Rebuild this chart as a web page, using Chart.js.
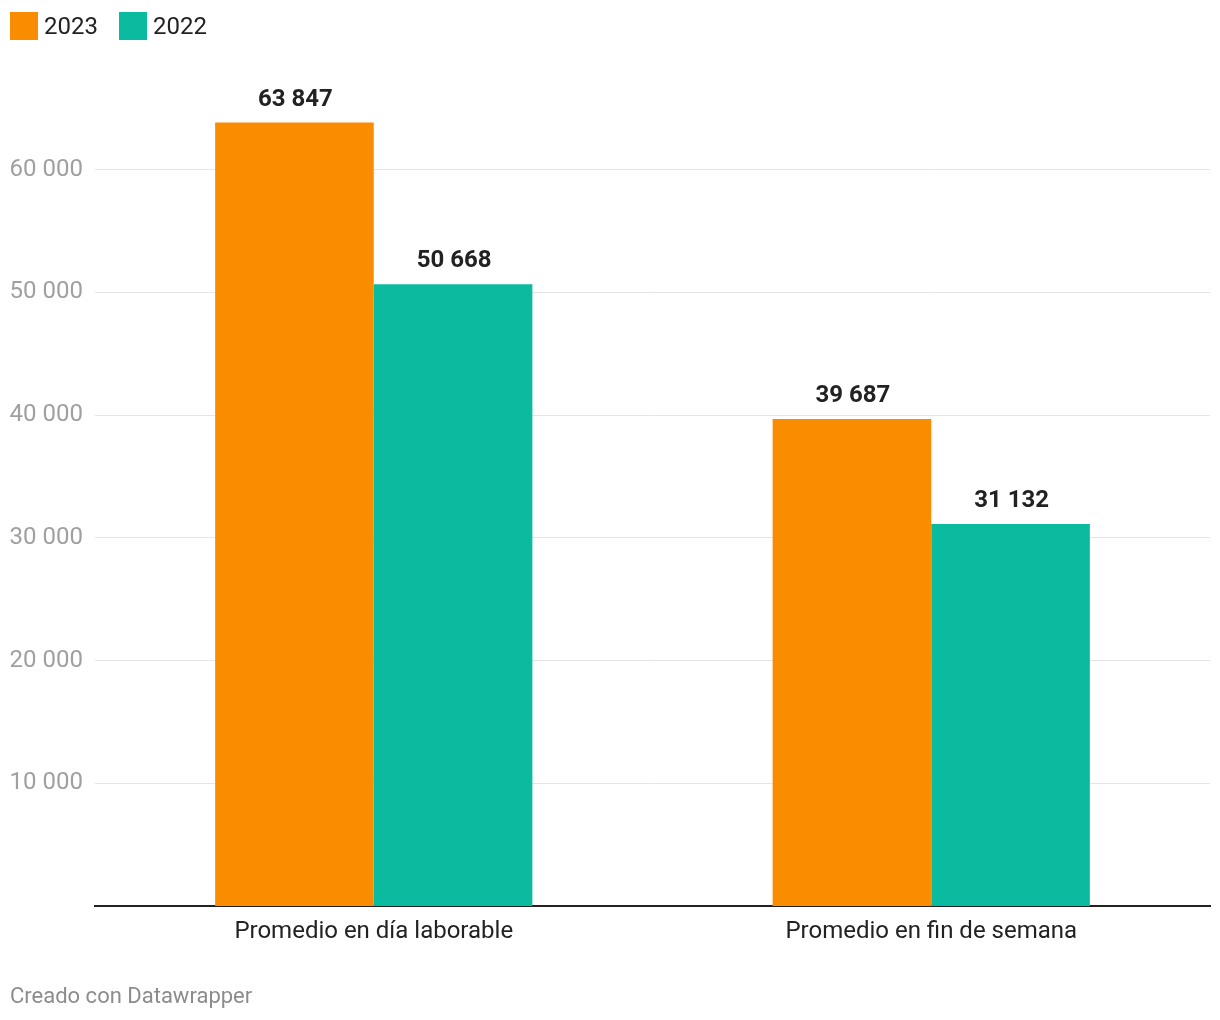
<!DOCTYPE html>
<html lang="es">
<head>
<meta charset="UTF-8">
<title>Promedio 2023 vs 2022</title>
<script src="https://cdn.jsdelivr.net/npm/chart.js"></script>
</head>
<body style="margin:0; background:#fff; font-family: Roboto, sans-serif;">
<div style="position:relative; width:1220px; height:1020px;">
    <canvas id="chart" width="1220" height="1020" style="position:absolute; left:0; top:0;"></canvas>
    <div style="position:absolute; left:10px; top:12px; display:flex; align-items:center; font-size:24px; color:#222; line-height:28px;">
        <span style="display:inline-block; width:28px; height:28px; background:#fa8c00; margin-right:6px;"></span>2023
        <span style="display:inline-block; width:28px; height:28px; background:#0bbba0; margin:0 6px 0 21px;"></span>2022
    </div>
    <div style="position:absolute; left:10px; top:983px; font-size:22px; line-height:26px; color:#8c8c8c;">Creado con Datawrapper</div>
</div>
<script>
    const categories = ['Promedio en día laborable', 'Promedio en fin de semana'];
    const values2023 = [63847, 39687];
    const values2022 = [50668, 31132];
    const yTicks = [10000, 20000, 30000, 40000, 50000, 60000];

    function fmt(n) {
        return String(n).replace(/\B(?=(\d{3})+(?!\d))/g, ' ');
    }

    // etiquetas de valor encima de las barras
    const valueLabels = {
        id: 'valueLabels',
        afterDatasetsDraw(chart) {
            const ctx = chart.ctx;
            ctx.save();
            ctx.font = 'bold 24px Roboto';
            ctx.fillStyle = '#222';
            ctx.textAlign = 'center';
            ctx.textBaseline = 'middle';
            chart.data.datasets.forEach((ds, i) => {
                chart.getDatasetMeta(i).data.forEach((bar, j) => {
                    ctx.fillText(fmt(ds.data[j]), bar.x + 1, bar.y - 23);
                });
            });
            ctx.restore();
        }
    };

    new Chart(document.getElementById('chart'), {
        type: 'bar',
        data: {
            labels: categories,
            datasets: [
                { label: '2023', data: values2023, backgroundColor: '#fa8c00' },
                { label: '2022', data: values2022, backgroundColor: '#0bbba0' }
            ]
        },
        options: {
            responsive: false,
            animation: false,
            layout: { padding: { top: 47, right: 10, left: 0, bottom: 0 } },
            datasets: { bar: { categoryPercentage: 0.569, barPercentage: 1 } },
            plugins: { legend: { display: false }, tooltip: { enabled: false } },
            scales: {
                x: {
                    grid: { display: false },
                    border: { display: true, color: '#222', width: 2 },
                    ticks: { color: '#222', font: { family: 'Roboto', size: 24 }, padding: 4 },
                    afterFit(scale) { scale.height = 114; }
                },
                y: {
                    min: 0,
                    max: 70000,
                    border: { display: false },
                    grid: { color: '#e5e5e5', lineWidth: 1, drawTicks: false },
                    ticks: {
                        color: '#a0a0a0',
                        font: { family: 'Roboto', size: 24 },
                        padding: 12,
                        callback: v => fmt(v)
                    },
                    afterBuildTicks(scale) { scale.ticks = yTicks.map(v => ({ value: v })); },
                    afterFit(scale) { scale.width = 95; }
                }
            }
        },
        plugins: [valueLabels]
    });
</script>
</body>
</html>
